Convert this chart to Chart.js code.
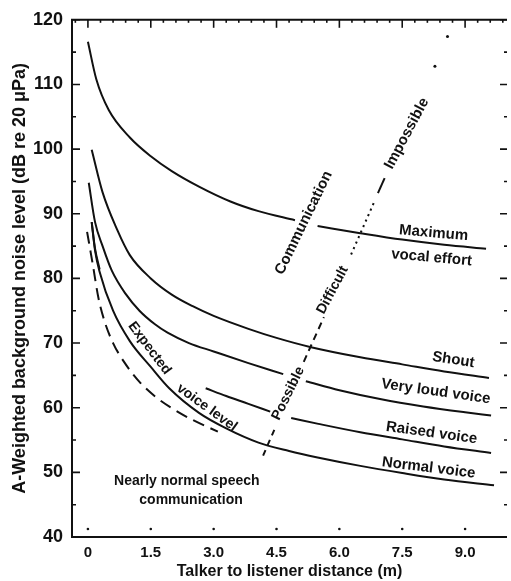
<!DOCTYPE html>
<html>
<head>
<meta charset="utf-8">
<script src="https://cdn.jsdelivr.net/npm/chart.js@4.4.1/dist/chart.umd.min.js"></script>
<style>
  html, body { margin: 0; padding: 0; background: #fff; }
  #wrap { width: 511px; height: 581px; position: relative; }
</style>
</head>
<body>
<div id="wrap"><canvas id="chart"></canvas></div>
<script>
// axis ticks
const xTickValues = [0, 1.5, 3.0, 4.5, 6.0, 7.5, 9.0];
const xTickLabels = ['0', '1.5', '3.0', '4.5', '6.0', '7.5', '9.0'];
const yTickValues = [40, 50, 60, 70, 80, 90, 100, 110, 120];

// curves (null = gap where a label sits on the line)
const maxX = [0.0, 0.2, 0.5, 1.0, 1.5, 2.0, 2.65, 3.4, 4.07, 4.94, 5.2, 5.48, 6.5, 7.5, 8.5, 9.5];
const maxY = [116.6, 110.8, 106.0, 101.8, 98.9, 96.6, 94.2, 91.9, 90.4, 89.0, null, 88.1, 87.0, 86.0, 85.2, 84.6];

const shoutX = [0.09, 0.35, 0.7, 1.0, 1.5, 2.0, 2.5, 3.0, 3.83, 4.5, 5.3, 6.5, 7.5, 8.5, 9.57];
const shoutY = [99.9, 93.3, 87.5, 83.6, 80.0, 77.5, 75.7, 74.2, 72.2, 70.8, 69.4, 67.8, 66.7, 65.6, 64.6];

const veryLoudX = [0.02, 0.17, 0.35, 0.57, 0.9, 1.23, 1.6, 1.9, 2.41, 3.0, 3.83, 4.66, 4.9, 5.2, 6.0, 7.0, 8.0, 9.0, 9.62];
const veryLoudY = [94.8, 88.7, 85.0, 81.2, 77.6, 75.0, 72.9, 71.6, 70.0, 68.7, 66.9, 65.2, null, 64.1, 62.7, 61.3, 60.2, 59.3, 58.8];

const raisedX = [0.09, 0.17, 0.28, 0.35, 2.81, 3.3, 3.83, 4.35, 4.6, 4.85, 5.5, 6.5, 7.5, 8.5, 9.62];
const raisedY = [88.7, 84.6, 81.4, null, 63.0, 61.8, 60.6, 59.4, null, 58.4, 57.5, 56.2, 55.1, 54.0, 53.0];

const normalX = [0.09, 0.17, 0.28, 0.6, 1.0, 1.5, 1.94, 2.65, 3.3, 4.07, 4.8, 5.48, 6.5, 7.5, 8.5, 9.69];
const normalY = [88.7, 84.3, 81.0, 75.0, 70.3, 66.3, 63.0, 59.2, 56.8, 54.6, 53.3, 52.3, 51.0, 49.9, 48.9, 48.0];

const dashedX = [-0.02, 0.12, 0.25, 0.4, 0.6, 0.85, 1.23, 1.63, 2.06, 2.5, 3.1];
const dashedY = [87.2, 82.0, 77.0, 73.3, 70.0, 67.2, 64.0, 61.6, 59.7, 58.1, 56.3];

// communication boundary (diagonal), broken up by its labels
const possibleX = [4.18, 4.49];
const possibleY = [52.6, 57.2];
const difficultX = [5.15, 5.63];
const difficultY = [67.1, 74.0];
const dottedX = [6.28, 6.85];
const dottedY = [83.7, 92.1];
const dashX = [6.92, 7.08];
const dashY = [93.2, 95.5];
const sparseX = [8.28, 8.58];
const sparseY = [112.8, 117.4];

const pts = (xs, ys) => xs.map((x, i) => ({ x: x, y: ys[i] }));

const INK = '#111';
const FONT = '"Liberation Sans", Arial, sans-serif';

function line(data, extra) {
    return Object.assign({
        data: data,
        borderColor: INK,
        borderWidth: 2,
        pointRadius: 0,
        fill: false,
        spanGaps: false,
        cubicInterpolationMode: 'monotone'
    }, extra || {});
}

// text on the plot, placed in data units
const notes = [
    { t: 'Maximum', x: 8.25, y: 87.0, r: 5, s: 15 },
    { t: 'vocal effort', x: 8.2, y: 83.2, r: 5, s: 15 },
    { t: 'Shout', x: 8.72, y: 67.4, r: 9, s: 15 },
    { t: 'Very loud voice', x: 8.3, y: 62.5, r: 8, s: 15 },
    { t: 'Raised voice', x: 8.2, y: 56.1, r: 8, s: 15 },
    { t: 'Normal voice', x: 8.13, y: 50.7, r: 7, s: 15 },
    { t: 'Nearly normal speech', x: 2.36, y: 48.6, r: 0, s: 14 },
    { t: 'communication', x: 2.46, y: 45.7, r: 0, s: 14 },
    { t: 'Communication', x: 5.15, y: 88.6, r: -64, s: 15 },
    { t: 'Impossible', x: 7.61, y: 102.4, r: -62, s: 15 },
    { t: 'Difficult', x: 5.84, y: 78.2, r: -62, s: 14 },
    { t: 'Possible', x: 4.78, y: 62.2, r: -64, s: 14 },
    { t: 'Expected', x: 1.47, y: 69.2, r: 53, s: 14 },
    { t: 'voice level', x: 2.84, y: 60.0, r: 36, s: 14 }
];

const frame = {
    id: 'frame',
    afterDraw(chart) {
        const ctx = chart.ctx, a = chart.chartArea;
        const xs = chart.scales.x, ys = chart.scales.y;
        ctx.save();
        ctx.strokeStyle = INK;
        ctx.lineWidth = 2;
        ctx.beginPath();
        ctx.moveTo(a.right, a.top);
        ctx.lineTo(a.left, a.top);
        ctx.lineTo(a.left, a.bottom);
        ctx.lineTo(a.right, a.bottom);
        ctx.stroke();

        // inward ticks on left and right
        ctx.lineWidth = 1.6;
        for (let v = 40; v <= 120; v += 5) {
            const py = ys.getPixelForValue(v);
            const major = v % 10 === 0;
            ctx.beginPath();
            ctx.moveTo(a.left, py);
            ctx.lineTo(a.left + (major ? 8 : 4), py);
            ctx.moveTo(a.right, py);
            ctx.lineTo(a.right - (major ? 7 : 3), py);
            ctx.stroke();
        }
        // ticks along the top
        for (let i = -1; i <= 33; i++) {
            const v = i * 0.3;
            if (v < xs.min || v > xs.max) continue;
            const px = xs.getPixelForValue(v);
            const major = i % 5 === 0;
            ctx.beginPath();
            ctx.moveTo(px, a.top);
            ctx.lineTo(px, a.top + (major ? 8 : 3));
            ctx.stroke();
        }
        // dots above the bottom labels
        ctx.fillStyle = INK;
        xTickValues.forEach(v => {
            ctx.beginPath();
            ctx.arc(xs.getPixelForValue(v), a.bottom - 8, 1.3, 0, Math.PI * 2);
            ctx.fill();
        });

        // labels
        ctx.textAlign = 'center';
        ctx.textBaseline = 'middle';
        notes.forEach(n => {
            ctx.save();
            ctx.translate(xs.getPixelForValue(n.x), ys.getPixelForValue(n.y));
            ctx.rotate(n.r * Math.PI / 180);
            ctx.font = 'bold ' + n.s + 'px ' + FONT;
            ctx.fillText(n.t, 0, 0);
            ctx.restore();
        });
        ctx.restore();
    }
};

new Chart(document.getElementById('chart'), {
    type: 'line',
    data: {
        datasets: [
            line(pts(maxX, maxY)),
            line(pts(shoutX, shoutY)),
            line(pts(veryLoudX, veryLoudY)),
            line(pts(raisedX, raisedY)),
            line(pts(normalX, normalY)),
            line(pts(dashedX, dashedY), { borderDash: [12, 7] }),
            line(pts(possibleX, possibleY), { borderDash: [6, 5], cubicInterpolationMode: 'default', tension: 0 }),
            line(pts(difficultX, difficultY), { borderDash: [7, 5], cubicInterpolationMode: 'default', tension: 0 }),
            line(pts(dottedX, dottedY), { borderDash: [2, 4], cubicInterpolationMode: 'default', tension: 0 }),
            line(pts(dashX, dashY), { cubicInterpolationMode: 'default', tension: 0 }),
            line(pts(sparseX, sparseY), { showLine: false, pointRadius: 1.5, pointBackgroundColor: INK, pointBorderWidth: 0 })
        ]
    },
    options: {
        responsive: true,
        maintainAspectRatio: false,
        animation: false,
        layout: { padding: { top: 15, right: 0, left: 0, bottom: 0 } },
        plugins: { legend: { display: false }, tooltip: { enabled: false } },
        scales: {
            x: {
                type: 'linear',
                min: -0.38,
                max: 10.0,
                afterBuildTicks: s => { s.ticks = xTickValues.map(v => ({ value: v })); },
                afterFit: s => { s.height = 44; },
                grid: { display: false, drawTicks: false },
                border: { display: false },
                ticks: {
                    color: INK,
                    padding: 7,
                    font: { family: FONT, size: 15, weight: 'bold' },
                    callback: v => xTickLabels[xTickValues.indexOf(v)]
                },
                title: {
                    display: true,
                    text: 'Talker to listener distance (m)',
                    color: INK,
                    padding: 0,
                    font: { family: FONT, size: 16, weight: 'bold' }
                }
            },
            y: {
                min: 40,
                max: 120,
                afterBuildTicks: s => { s.ticks = yTickValues.map(v => ({ value: v })); },
                afterFit: s => { s.width = 72; },
                grid: { display: false, drawTicks: false },
                border: { display: false },
                ticks: {
                    color: INK,
                    padding: 9,
                    font: { family: FONT, size: 18, weight: 'bold' }
                },
                title: {
                    display: true,
                    text: 'A-Weighted background noise level (dB re 20 \u03bcPa)',
                    color: INK,
                    padding: { top: 9, bottom: 0 },
                    font: { family: FONT, size: 18, weight: 'bold' }
                }
            }
        }
    },
    plugins: [frame]
});
</script>
</body>
</html>
